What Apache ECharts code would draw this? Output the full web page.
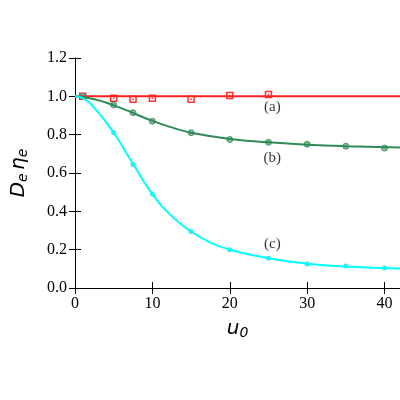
<!DOCTYPE html><html><head><meta charset="utf-8">
<script src="https://cdn.jsdelivr.net/npm/echarts@6/dist/echarts.min.js"></script>
<style>html,body{margin:0;padding:0;background:#fff}#c{width:400px;height:400px}</style></head><body><div id="c"></div>
<script>
const xA=[1,5,7.5,10,15,20,25];
const yA=[1.0,0.99,0.985,0.99,0.985,1.005,1.01];
const xB=[1,5,7.5,10,15,20,25,30,35,40];
const yB=[1.0,0.955,0.915,0.87,0.81,0.775,0.76,0.75,0.74,0.73];
const xC=[1,5,7.5,10,15,20,25,30,35,40];
const yC=[1.0,0.81,0.645,0.49,0.295,0.2,0.155,0.125,0.115,0.105];
const curveAx=[0,42], curveAy=[1,1];
const curveBx=[0,2.5,5,7.5,10,12.5,15,20,25,30,35,42];
const curveBy=[1,0.985,0.953,0.913,0.872,0.838,0.81,0.778,0.76,0.748,0.74,0.733];
const curveCx=[0,1,2.5,5,7.5,10,12.5,15,17.5,20,25,30,35,42];
const curveCy=[1,0.99,0.94,0.81,0.648,0.49,0.375,0.295,0.237,0.2,0.155,0.127,0.112,0.102];
const labels=[["(a)",25.5,0.945],["(b)",25.5,0.68],["(c)",25.5,0.23]];
const z=(a,b)=>a.map((v,i)=>[v,b[i]]);
const F='Liberation Serif';
const nameRich={n:{fontFamily:'DejaVu Sans',fontStyle:'italic',fontSize:20,color:'#000'},s:{fontFamily:'DejaVu Sans',fontStyle:'italic',fontSize:14,color:'#000',verticalAlign:'bottom',padding:[8,0,0,0]}};
const base={axisLine:{show:true,lineStyle:{color:'#000'}},axisTick:{inside:true,length:6,lineStyle:{color:'#000'}},splitLine:{show:false}};
const chart=echarts.init(document.getElementById('c'));
chart.setOption({animation:false,
grid:{left:75,right:0,top:58,bottom:112},
xAxis:[Object.assign({type:'value',min:0,max:42,interval:10,name:'{n|u}{s|0}',nameLocation:'middle',nameGap:30,
 nameTextStyle:{rich:nameRich},axisLabel:{fontFamily:F,fontSize:16,color:'#000'}},base),
 Object.assign({type:'value',position:'top',min:0,max:42,interval:10,axisLabel:{show:false}},base)],
yAxis:[Object.assign({type:'value',min:0,max:1.2,interval:0.2,name:'{n|D}{s|e} {n|η}{s|e}',nameLocation:'middle',nameGap:45,
 nameTextStyle:{rich:nameRich},axisLabel:{fontFamily:F,fontSize:16,color:'#000',formatter:v=>v.toFixed(1)}},base),
 Object.assign({type:'value',position:'right',min:0,max:1.2,interval:0.2,axisLabel:{show:false}},base)],
series:[
{type:'line',data:z(curveAx,curveAy),symbol:'none',lineStyle:{color:'#ff2020',width:2}},
{type:'line',data:z(curveBx,curveBy),symbol:'none',smooth:true,lineStyle:{color:'#2e8b57',width:2}},
{type:'line',data:z(curveCx,curveCy),symbol:'none',smooth:true,lineStyle:{color:'#00ffff',width:2}},
{type:'scatter',data:z(xA,yA),symbol:'rect',symbolSize:6,itemStyle:{color:'#fff',borderColor:'#ff0000',borderWidth:1.5}},
{type:'scatter',data:z(xA,yA),symbol:'rect',symbolSize:1.5,itemStyle:{color:'#ff0000'}},
{type:'scatter',data:z(xB,yB),symbol:'circle',symbolSize:6,itemStyle:{color:'#6aa87a',borderColor:'#2e8b57',borderWidth:1}},
{type:'scatter',data:z(xC,yC),symbol:'circle',symbolSize:5,itemStyle:{color:'#00e5e5'}},
{type:'scatter',symbolSize:0,data:labels.map(l=>({value:[l[1],l[2]],name:l[0]})),
 label:{show:true,position:'inside',formatter:p=>p.name,fontFamily:F,fontSize:15,color:'#000'}}
]});
</script></body></html>
